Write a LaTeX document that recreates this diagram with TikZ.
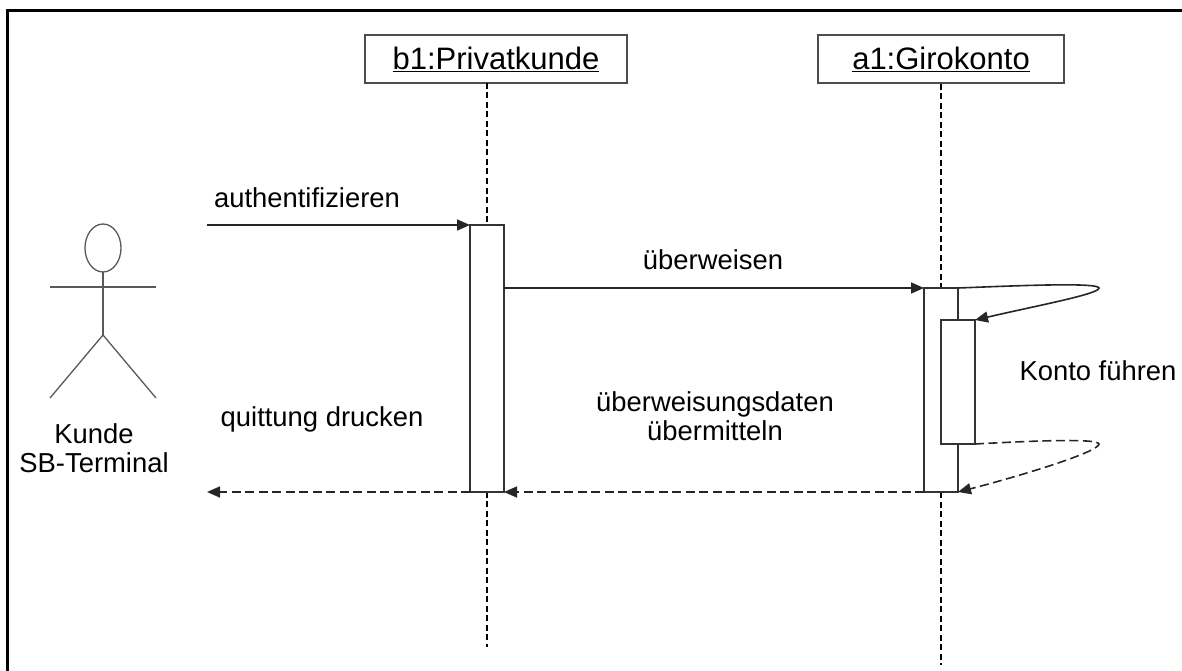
\documentclass[tikz,border=0pt]{standalone}
\usepackage{fontspec}
\setmainfont{Liberation Sans}
\usetikzlibrary{arrows.meta}

\tikzset{
  msg/.style={-{Triangle[length=13pt,width=11pt]},line width=1.6pt,draw=black!85},
  retmsg/.style={msg,dash pattern=on 9pt off 4.5pt},
  lifeline/.style={line width=1.5pt,dash pattern=on 6pt off 3.5pt},
  objbox/.style={draw=black!70,line width=1.3pt,fill=white,minimum height=48pt,inner sep=0pt},
  activation/.style={draw=black!80,line width=1.3pt,fill=white},
  stick/.style={draw=black!65,line width=1.3pt},
  lbl/.style={inner sep=0pt,font=\fontsize{27.4}{29}\selectfont,align=center}
}

\begin{document}
\begin{tikzpicture}[x=1pt,y=-1pt]
\useasboundingbox (0,0) rectangle (1182,671);
\draw[line width=3pt] (7,671) -- (7,11) -- (1182,11);
% lifelines
\node[objbox,minimum width=262pt] (b1) at (496,59) {\fontsize{31}{36}\selectfont\underline{b1:Privatkunde}};
\node[objbox,minimum width=246pt] (a1) at (941,59) {\fontsize{31}{36}\selectfont\underline{a1:Girokonto}};
\coordinate (b1top) at (487,83);
\coordinate (b1end) at (487,647);
\coordinate (a1end) at (941,665);
\draw[lifeline] (b1top) -- (b1end);
\draw[lifeline] (a1) -- (a1end);
% activations
\draw[activation] (470,225) rectangle (504,492);
\draw[activation] (924,288) rectangle (958,492);
\draw[activation] (941,320) rectangle (975,444);
\coordinate (start) at (207,225);
\coordinate (b1in) at (470,225);
\coordinate (b1right) at (504,288);
\coordinate (a1left) at (924,288);
\coordinate (a1top) at (958,288);
\coordinate (a2top) at (975,320);
\coordinate (a2low) at (975,444);
\coordinate (a1low) at (958,492);
\coordinate (a1bot) at (924,492);
\coordinate (b1bot) at (504,492);
\coordinate (b1botl) at (470,492);
\coordinate (finish) at (207,492);
\draw[msg] (start) -- (b1in);
\draw[msg] (b1right) -- (a1left);
\draw[msg] (a1top) .. controls (1010,286) and (1098,282) .. (1099,288) .. controls (1099,294) and (1040,305) .. (a2top);
\draw[retmsg] (a2low) .. controls (1030,441) and (1098,438) .. (1099,444) .. controls (1099,452) and (1020,476) .. (a1low);
\draw[retmsg] (a1bot) -- (b1bot);
\draw[retmsg] (b1botl) -- (finish);
% actor
\draw[stick] (103,248) circle[x radius=18pt,y radius=24pt];
\draw[stick] (103,272) -- (103,335);
\draw[stick] (50,287) -- (156,287);
\draw[stick] (50,398) -- (103,335) -- (156,398);
% labels
\node[lbl] (kunde) at (94,448) {Kunde\\SB-Terminal};
\node[lbl] (auth) at (307,198) {authentifizieren};
\node[lbl] (ueber) at (713,260) {überweisen};
\node[lbl] (konto) at (1098,371) {Konto führen};
\node[lbl] (quitt) at (322,419) {quittung drucken};
\node[lbl] (daten) at (715,416) {überweisungsdaten\\übermitteln};
\end{tikzpicture}
\end{document}
